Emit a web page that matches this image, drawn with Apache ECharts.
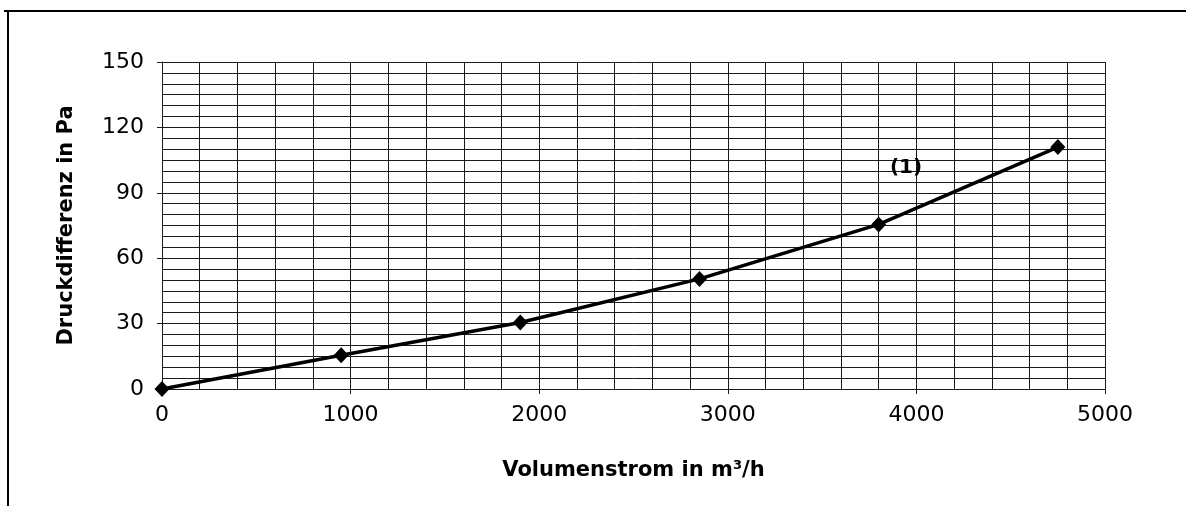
<!DOCTYPE html>
<html>
<head>
<meta charset="utf-8">
<script src="https://cdn.jsdelivr.net/npm/echarts@6/dist/echarts.min.js"></script>
<style>
html,body{margin:0;padding:0;background:#fff;}
#c{width:1186px;height:506px;}
</style>
</head>
<body>
<div id="c"></div>
<script>
const volumeFlow = [0, 950, 1900, 2850, 3800, 4750];
const pressureDiff = [0, 15.5, 30.5, 50.5, 75.5, 111];
const seriesLabel = '(1)';
const xTitle = 'Volumenstrom in m³/h';
const yTitle = 'Druckdifferenz in Pa';

const chart = echarts.init(document.getElementById('c'), null, {renderer: 'canvas'});
const gridColor = '#1a1a1a';
const tickFont = {fontFamily: 'DejaVu Sans', fontSize: 22, color: '#000'};
const titleFont = {fontFamily: 'DejaVu Sans', fontWeight: 'bold', fontSize: 21, color: '#000'};
chart.setOption({
  animation: false,
  backgroundColor: '#fff',
  grid: {left: 162, right: 81, top: 62, bottom: 117, containLabel: false},
  xAxis: {
    type: 'value', min: 0, max: 5000, interval: 1000,
    name: xTitle, nameLocation: 'middle', nameGap: 71,
    nameTextStyle: titleFont,
    axisLine: {show: true, lineStyle: {color: gridColor, width: 1}},
    axisTick: {show: true, length: 5, lineStyle: {color: gridColor}},
    axisLabel: Object.assign({margin: 15, formatter: v => String(v)}, tickFont),
    splitLine: {show: true, lineStyle: {color: gridColor, width: 1}},
    minorTick: {show: false, splitNumber: 5},
    minorSplitLine: {show: true, lineStyle: {color: gridColor, width: 1}}
  },
  yAxis: {
    type: 'value', min: 0, max: 150, interval: 30,
    name: yTitle, nameLocation: 'middle', nameGap: 85, nameRotate: 90,
    nameTextStyle: titleFont,
    axisLine: {show: true, lineStyle: {color: gridColor, width: 1}},
    axisTick: {show: true, length: 5, lineStyle: {color: gridColor}},
    axisLabel: Object.assign({margin: 18, formatter: v => String(v)}, tickFont),
    splitLine: {show: true, lineStyle: {color: gridColor, width: 1}},
    minorTick: {show: false, splitNumber: 6},
    minorSplitLine: {show: true, lineStyle: {color: gridColor, width: 1}}
  },
  series: [{
    type: 'line',
    data: volumeFlow.map((v, i) => [v, pressureDiff[i]]),
    symbol: 'diamond', symbolSize: [15, 16],
    lineStyle: {color: '#000', width: 3.5},
    itemStyle: {color: '#000'},
    markPoint: {
      symbol: 'circle', symbolSize: 0,
      label: {show: true, formatter: seriesLabel, fontFamily: 'DejaVu Sans', fontWeight: 'bold', fontSize: 20, color: '#000', position: 'inside'},
      data: [{coord: [3945, 101.5]}]
    }
  }],
  graphic: [
    {type: 'line', shape: {x1: 4, y1: 11, x2: 1186, y2: 11}, style: {stroke: '#000', lineWidth: 2}},
    {type: 'line', shape: {x1: 8, y1: 11, x2: 8, y2: 506}, style: {stroke: '#000', lineWidth: 2}}
  ]
});
</script>
</body>
</html>
